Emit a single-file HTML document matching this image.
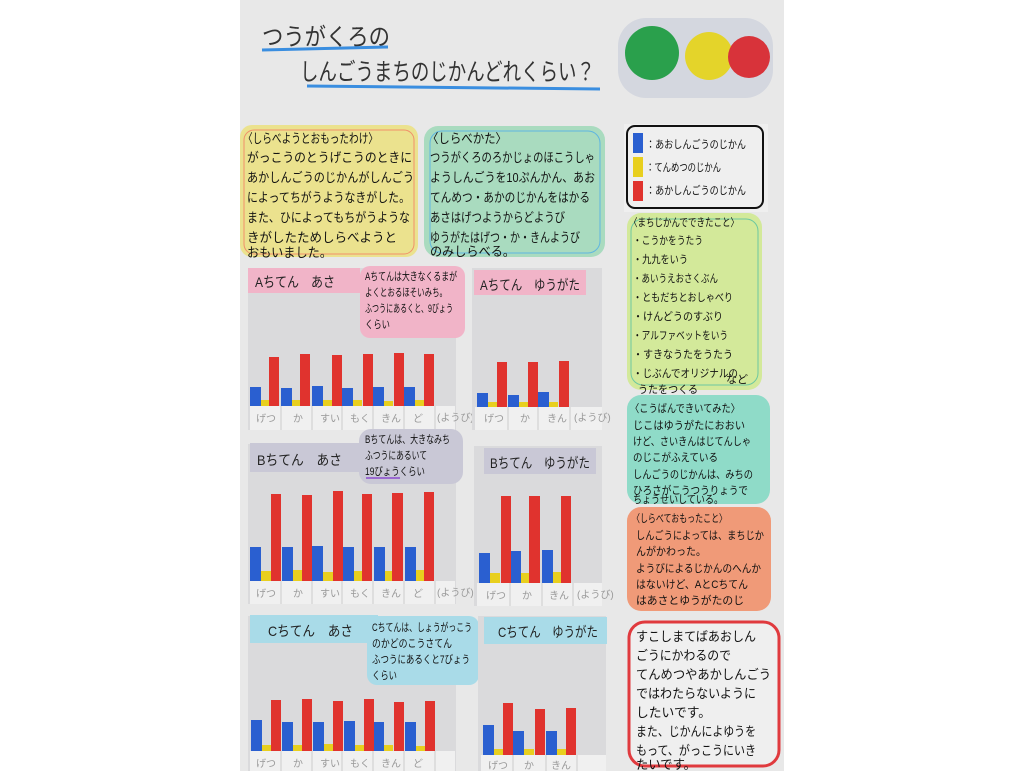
<!DOCTYPE html>
<html><head><meta charset="utf-8">
<style>
html,body{margin:0;padding:0;background:#fff;width:1024px;height:771px;overflow:hidden}
svg{display:block}
text{font-family:"Liberation Sans","Noto Sans CJK JP",sans-serif;fill:#222}
.t{font-size:13px;fill:#111}
.s{font-size:11px;fill:#111}
.x{font-size:10px;fill:#999}
</style></head><body>
<svg width="1024" height="771" viewBox="0 0 1024 771" xmlns="http://www.w3.org/2000/svg">
<rect x="240" y="0" width="544" height="771" fill="#e8e8e8"/>
<!-- title -->
<text x="262" y="45" font-size="24" style="fill:#333" textLength="128" lengthAdjust="spacingAndGlyphs">つうがくろの</text>
<path d="M262 50 L388 47" stroke="#3a8ee0" stroke-width="3"/>
<text x="300" y="80" font-size="24" style="fill:#333" textLength="295" lengthAdjust="spacingAndGlyphs">しんごうまちのじかんどれくらい？</text>
<path d="M307 86 L600 89" stroke="#3a8ee0" stroke-width="3"/>
<rect x="618" y="18" width="155" height="80" rx="28" fill="#d4d7df"/>
<circle cx="652" cy="53" r="27" fill="#2aa04c"/>
<circle cx="709" cy="56" r="24" fill="#e4d42a"/>
<circle cx="749" cy="57" r="21" fill="#d8333a"/>
<!-- box1 yellow -->
<rect x="240" y="125" width="178" height="132" rx="12" fill="#ebe28e"/>
<rect x="244" y="130" width="170" height="124" rx="10" fill="none" stroke="#f0906a" stroke-width="1"/>
<g lengthAdjust="spacingAndGlyphs">
<text class="t" x="243" y="143" textLength="135" lengthAdjust="spacingAndGlyphs">〈しらべようとおもったわけ〉</text>
<text class="t" x="247" y="162" textLength="165" lengthAdjust="spacingAndGlyphs">がっこうのとうげこうのときに</text>
<text class="t" x="247" y="182" textLength="167" lengthAdjust="spacingAndGlyphs">あかしんごうのじかんがしんごう</text>
<text class="t" x="247" y="202" textLength="163" lengthAdjust="spacingAndGlyphs">によってちがうようなきがした。</text>
<text class="t" x="247" y="222" textLength="163" lengthAdjust="spacingAndGlyphs">また、ひによってもちがうような</text>
<text class="t" x="247" y="242" textLength="150" lengthAdjust="spacingAndGlyphs">きがしたためしらべようと</text>
<text class="t" x="247" y="257" textLength="85" lengthAdjust="spacingAndGlyphs">おもいました。</text>
</g>
<!-- box2 green -->
<rect x="424" y="126" width="181" height="131" rx="14" fill="#a9dbbf"/>
<rect x="430" y="131" width="170" height="122" rx="12" fill="none" stroke="#5fb6e0" stroke-width="1"/>
<text class="t" x="427" y="143" textLength="80" lengthAdjust="spacingAndGlyphs">〈しらべかた〉</text>
<text class="t" x="430" y="162" textLength="165" lengthAdjust="spacingAndGlyphs">つうがくろのろかじょのほこうしゃ</text>
<text class="t" x="430" y="182" textLength="165" lengthAdjust="spacingAndGlyphs">ようしんごうを10ぷんかん、あお</text>
<text class="t" x="430" y="202" textLength="160" lengthAdjust="spacingAndGlyphs">てんめつ・あかのじかんをはかる</text>
<text class="t" x="430" y="222" textLength="135" lengthAdjust="spacingAndGlyphs">あさはげつようからどようび</text>
<text class="t" x="430" y="242" textLength="150" lengthAdjust="spacingAndGlyphs">ゆうがたはげつ・か・きんようび</text>
<text class="t" x="430" y="256" textLength="85" lengthAdjust="spacingAndGlyphs">のみしらべる。</text>
<!-- legend -->
<rect x="624" y="124" width="144" height="88" fill="#efefef"/>
<rect x="627" y="126" width="136" height="82" rx="8" fill="none" stroke="#111" stroke-width="2"/>
<rect x="633" y="133" width="10" height="20" fill="#2a5fd0"/>
<rect x="633" y="157" width="10" height="20" fill="#e8cf1e"/>
<rect x="633" y="181" width="10" height="20" fill="#e0332e"/>
<text class="s" x="646" y="148" textLength="100" lengthAdjust="spacingAndGlyphs">：あおしんごうのじかん</text>
<text class="s" x="646" y="171" textLength="75" lengthAdjust="spacingAndGlyphs">：てんめつのじかん</text>
<text class="s" x="646" y="194" textLength="100" lengthAdjust="spacingAndGlyphs">：あかしんごうのじかん</text>
<!-- green list -->
<rect x="627" y="213" width="135" height="177" rx="14" fill="#d3e99a"/>
<rect x="631" y="219" width="127" height="166" rx="12" fill="none" stroke="#6cc8a0" stroke-width="1"/>
<text class="s" x="629" y="226" textLength="110" lengthAdjust="spacingAndGlyphs">〈まちじかんでできたこと〉</text>
<text class="s" x="633" y="244" textLength="70" lengthAdjust="spacingAndGlyphs">・こうかをうたう</text>
<text class="s" x="633" y="263" textLength="55" lengthAdjust="spacingAndGlyphs">・九九をいう</text>
<text class="s" x="633" y="282" textLength="85" lengthAdjust="spacingAndGlyphs">・あいうえおさくぶん</text>
<text class="s" x="633" y="301" textLength="100" lengthAdjust="spacingAndGlyphs">・ともだちとおしゃべり</text>
<text class="s" x="633" y="320" textLength="90" lengthAdjust="spacingAndGlyphs">・けんどうのすぶり</text>
<text class="s" x="633" y="339" textLength="95" lengthAdjust="spacingAndGlyphs">・アルファベットをいう</text>
<text class="s" x="633" y="358" textLength="100" lengthAdjust="spacingAndGlyphs">・すきなうたをうたう</text>
<text class="s" x="633" y="377" textLength="105" lengthAdjust="spacingAndGlyphs">・じぶんでオリジナルの</text>
<text class="s" x="638" y="393" textLength="60" lengthAdjust="spacingAndGlyphs">うたをつくる</text>
<text class="s" x="726" y="383">など</text>
<!-- teal -->
<rect x="627" y="395" width="143" height="109" rx="14" fill="#8fdbc8"/>
<text class="s" x="630" y="412" textLength="110" lengthAdjust="spacingAndGlyphs">〈こうばんできいてみた〉</text>
<text class="s" x="633" y="429" textLength="112" lengthAdjust="spacingAndGlyphs">じこはゆうがたにおおい</text>
<text class="s" x="633" y="445" textLength="118" lengthAdjust="spacingAndGlyphs">けど、さいきんはじてんしゃ</text>
<text class="s" x="633" y="461" textLength="85" lengthAdjust="spacingAndGlyphs">のじこがふえている</text>
<text class="s" x="633" y="478" textLength="120" lengthAdjust="spacingAndGlyphs">しんごうのじかんは、みちの</text>
<text class="s" x="633" y="494" textLength="115" lengthAdjust="spacingAndGlyphs">ひろさがこうつうりょうで</text>
<text class="s" x="633" y="503" textLength="90" lengthAdjust="spacingAndGlyphs">ちょうせいしている。</text>
<!-- orange -->
<rect x="627" y="507" width="144" height="104" rx="14" fill="#f09a78"/>
<text class="s" x="632" y="522" textLength="95" lengthAdjust="spacingAndGlyphs">〈しらべておもったこと〉</text>
<text class="s" x="636" y="539" textLength="128" lengthAdjust="spacingAndGlyphs">しんごうによっては、まちじか</text>
<text class="s" x="636" y="555" textLength="70" lengthAdjust="spacingAndGlyphs">んがかわった。</text>
<text class="s" x="636" y="572" textLength="125" lengthAdjust="spacingAndGlyphs">ようびによるじかんのへんか</text>
<text class="s" x="636" y="588" textLength="112" lengthAdjust="spacingAndGlyphs">はないけど、AとCちてん</text>
<text class="s" x="636" y="604" textLength="108" lengthAdjust="spacingAndGlyphs">はあさとゆうがたのじ</text>
<!-- red outline -->
<rect x="629" y="622" width="150" height="144" rx="16" fill="#efefef" stroke="#e03a3e" stroke-width="3"/>
<text class="t" x="636" y="641" textLength="120" lengthAdjust="spacingAndGlyphs">すこしまてばあおしん</text>
<text class="t" x="636" y="660" textLength="95" lengthAdjust="spacingAndGlyphs">ごうにかわるので</text>
<text class="t" x="636" y="679" textLength="135" lengthAdjust="spacingAndGlyphs">てんめつやあかしんごう</text>
<text class="t" x="636" y="698" textLength="120" lengthAdjust="spacingAndGlyphs">ではわたらないように</text>
<text class="t" x="636" y="717" textLength="75" lengthAdjust="spacingAndGlyphs">したいです。</text>
<text class="t" x="636" y="736" textLength="120" lengthAdjust="spacingAndGlyphs">また、じかんによゆうを</text>
<text class="t" x="636" y="755" textLength="120" lengthAdjust="spacingAndGlyphs">もって、がっこうにいき</text>
<text class="t" x="636" y="769" textLength="60" lengthAdjust="spacingAndGlyphs">たいです。</text>

<!-- ===== A morning ===== -->
<rect x="248" y="268" width="208" height="162" fill="#dadadc"/>
<rect x="250" y="406" width="205" height="24" fill="#f0f0f0"/>
<g stroke="#ccc"><path d="M281 406V430M312 406V430M342 406V430M373 406V430M404 406V430M435 406V430"/></g>
<rect x="248" y="268" width="112" height="25" fill="#f1b4c8"/>
<text x="255" y="287" font-size="14" textLength="80" lengthAdjust="spacingAndGlyphs">Aちてん　あさ</text>
<rect x="360" y="266" width="105" height="72" rx="10" fill="#f1b4c8"/>
<text class="s" x="365" y="280" textLength="92" lengthAdjust="spacingAndGlyphs">Aちてんは大きなくるまが</text>
<text class="s" x="365" y="296" textLength="82" lengthAdjust="spacingAndGlyphs">よくとおるほそいみち。</text>
<text class="s" x="365" y="312" textLength="88" lengthAdjust="spacingAndGlyphs">ふつうにあるくと、9びょう</text>
<text class="s" x="365" y="328" textLength="25" lengthAdjust="spacingAndGlyphs">くらい</text>
<g fill="#2a5fd0"><rect x="250" y="387" width="11" height="19"/><rect x="281" y="388" width="11" height="18"/><rect x="312" y="386" width="11" height="20"/><rect x="342" y="388" width="11" height="18"/><rect x="373" y="387" width="11" height="19"/><rect x="404" y="387" width="11" height="19"/></g>
<g fill="#e8cf1e"><rect x="261" y="400" width="9" height="6"/><rect x="292" y="400" width="9" height="6"/><rect x="323" y="400" width="9" height="6"/><rect x="353" y="400" width="9" height="6"/><rect x="384" y="401" width="9" height="5"/><rect x="415" y="400" width="9" height="6"/></g>
<g fill="#e0332e"><rect x="269" y="357" width="10" height="49"/><rect x="300" y="354" width="10" height="52"/><rect x="332" y="355" width="10" height="51"/><rect x="363" y="354" width="10" height="52"/><rect x="394" y="353" width="10" height="53"/><rect x="424" y="354" width="10" height="52"/></g>
<text class="x" x="256" y="422">げつ</text><text class="x" x="293" y="422">か</text><text class="x" x="320" y="422">すい</text><text class="x" x="350" y="422">もく</text><text class="x" x="381" y="422">きん</text><text class="x" x="413" y="422">ど</text><text class="x" x="437" y="421" font-size="7">(ようび)</text>

<!-- ===== A evening ===== -->
<rect x="472" y="268" width="130" height="162" fill="#dadadc"/>
<rect x="475" y="407" width="127" height="23" fill="#f0f0f0"/>
<g stroke="#ccc"><path d="M508 407V430M538 407V430M570 407V430"/></g>
<rect x="474" y="270" width="112" height="25" fill="#f1b4c8"/>
<text x="480" y="290" font-size="14" textLength="100" lengthAdjust="spacingAndGlyphs">Aちてん　ゆうがた</text>
<g fill="#2a5fd0"><rect x="477" y="393" width="11" height="14"/><rect x="508" y="395" width="11" height="12"/><rect x="538" y="392" width="11" height="15"/></g>
<g fill="#e8cf1e"><rect x="488" y="402" width="9" height="5"/><rect x="519" y="402" width="9" height="5"/><rect x="549" y="402" width="9" height="5"/></g>
<g fill="#e0332e"><rect x="497" y="362" width="10" height="45"/><rect x="528" y="362" width="10" height="45"/><rect x="559" y="361" width="10" height="46"/></g>
<text class="x" x="484" y="422">げつ</text><text class="x" x="520" y="422">か</text><text class="x" x="547" y="422">きん</text><text class="x" x="574" y="421" font-size="7">(ようび)</text>

<!-- ===== B morning ===== -->
<rect x="248" y="444" width="208" height="160" fill="#dadadc"/>
<rect x="250" y="581" width="205" height="23" fill="#f0f0f0"/>
<g stroke="#ccc"><path d="M281 581V604M312 581V604M342 581V604M373 581V604M404 581V604M435 581V604"/></g>
<rect x="250" y="443" width="112" height="29" fill="#c9c8d6"/>
<text x="257" y="465" font-size="14" textLength="85" lengthAdjust="spacingAndGlyphs">Bちてん　あさ</text>
<rect x="359" y="429" width="104" height="55" rx="12" fill="#c9c8d6"/>
<text class="s" x="365" y="443" textLength="85" lengthAdjust="spacingAndGlyphs">Bちてんは、大きなみち</text>
<text class="s" x="365" y="459" textLength="62" lengthAdjust="spacingAndGlyphs">ふつうにあるいて</text>
<text class="s" x="365" y="475" textLength="60" lengthAdjust="spacingAndGlyphs">19びょうくらい</text>
<path d="M366 478 L400 478" stroke="#9a6ad0" stroke-width="2"/>
<g fill="#2a5fd0"><rect x="250" y="547" width="11" height="34"/><rect x="282" y="547" width="11" height="34"/><rect x="312" y="546" width="11" height="35"/><rect x="343" y="547" width="11" height="34"/><rect x="374" y="547" width="11" height="34"/><rect x="405" y="547" width="11" height="34"/></g>
<g fill="#e8cf1e"><rect x="261" y="571" width="10" height="10"/><rect x="293" y="570" width="9" height="11"/><rect x="323" y="572" width="10" height="9"/><rect x="354" y="571" width="9" height="10"/><rect x="385" y="571" width="8" height="10"/><rect x="416" y="570" width="9" height="11"/></g>
<g fill="#e0332e"><rect x="271" y="494" width="10" height="87"/><rect x="302" y="495" width="10" height="86"/><rect x="333" y="491" width="10" height="90"/><rect x="362" y="494" width="10" height="87"/><rect x="392" y="493" width="11" height="88"/><rect x="424" y="492" width="10" height="89"/></g>
<text class="x" x="256" y="597">げつ</text><text class="x" x="293" y="597">か</text><text class="x" x="320" y="597">すい</text><text class="x" x="350" y="597">もく</text><text class="x" x="381" y="597">きん</text><text class="x" x="413" y="597">ど</text><text class="x" x="437" y="596" font-size="7">(ようび)</text>

<!-- ===== B evening ===== -->
<rect x="474" y="446" width="128" height="160" fill="#dadadc"/>
<rect x="477" y="583" width="125" height="23" fill="#f0f0f0"/>
<g stroke="#ccc"><path d="M510 583V606M542 583V606M573 583V606"/></g>
<rect x="484" y="448" width="112" height="26" fill="#c9c8d6"/>
<text x="490" y="468" font-size="14" textLength="100" lengthAdjust="spacingAndGlyphs">Bちてん　ゆうがた</text>
<g fill="#2a5fd0"><rect x="479" y="553" width="11" height="30"/><rect x="510" y="551" width="11" height="32"/><rect x="542" y="550" width="11" height="33"/></g>
<g fill="#e8cf1e"><rect x="490" y="573" width="10" height="10"/><rect x="521" y="573" width="9" height="10"/><rect x="553" y="572" width="9" height="11"/></g>
<g fill="#e0332e"><rect x="501" y="496" width="10" height="87"/><rect x="529" y="496" width="11" height="87"/><rect x="561" y="496" width="10" height="87"/></g>
<text class="x" x="486" y="599">げつ</text><text class="x" x="522" y="599">か</text><text class="x" x="549" y="599">きん</text><text class="x" x="577" y="598" font-size="7">(ようび)</text>

<!-- ===== C morning ===== -->
<rect x="248" y="616" width="208" height="155" fill="#dadadc"/>
<rect x="250" y="751" width="205" height="20" fill="#f0f0f0"/>
<g stroke="#ccc"><path d="M281 751V771M312 751V771M342 751V771M373 751V771M404 751V771M435 751V771"/></g>
<rect x="250" y="615" width="128" height="28" fill="#a9dbe8"/>
<text x="268" y="636" font-size="14" textLength="85" lengthAdjust="spacingAndGlyphs">Cちてん　あさ</text>
<rect x="367" y="616" width="112" height="69" rx="10" fill="#a9dbe8"/>
<text class="s" x="372" y="631" textLength="100" lengthAdjust="spacingAndGlyphs">Cちてんは、しょうがっこう</text>
<text class="s" x="372" y="647" textLength="80" lengthAdjust="spacingAndGlyphs">のかどのこうさてん</text>
<text class="s" x="372" y="663" textLength="98" lengthAdjust="spacingAndGlyphs">ふつうにあるくと7びょう</text>
<text class="s" x="372" y="679" textLength="25" lengthAdjust="spacingAndGlyphs">くらい</text>
<g fill="#2a5fd0"><rect x="251" y="720" width="11" height="31"/><rect x="282" y="722" width="11" height="29"/><rect x="313" y="722" width="11" height="29"/><rect x="344" y="721" width="11" height="30"/><rect x="373" y="722" width="11" height="29"/><rect x="405" y="722" width="11" height="29"/></g>
<g fill="#e8cf1e"><rect x="262" y="745" width="9" height="6"/><rect x="293" y="745" width="9" height="6"/><rect x="324" y="744" width="9" height="7"/><rect x="355" y="745" width="9" height="6"/><rect x="384" y="745" width="9" height="6"/><rect x="416" y="746" width="9" height="5"/></g>
<g fill="#e0332e"><rect x="271" y="700" width="10" height="51"/><rect x="302" y="699" width="10" height="52"/><rect x="333" y="701" width="10" height="50"/><rect x="364" y="699" width="10" height="52"/><rect x="394" y="702" width="10" height="49"/><rect x="425" y="701" width="10" height="50"/></g>
<text class="x" x="256" y="767">げつ</text><text class="x" x="293" y="767">か</text><text class="x" x="320" y="767">すい</text><text class="x" x="350" y="767">もく</text><text class="x" x="381" y="767">きん</text><text class="x" x="413" y="767">ど</text>

<!-- ===== C evening ===== -->
<rect x="478" y="616" width="128" height="155" fill="#dadadc"/>
<rect x="481" y="755" width="125" height="16" fill="#f0f0f0"/>
<g stroke="#ccc"><path d="M513 755V771M546 755V771M577 755V771"/></g>
<rect x="484" y="617" width="123" height="27" fill="#a9dbe8"/>
<text x="498" y="637" font-size="14" textLength="100" lengthAdjust="spacingAndGlyphs">Cちてん　ゆうがた</text>
<g fill="#2a5fd0"><rect x="483" y="725" width="11" height="30"/><rect x="513" y="731" width="11" height="24"/><rect x="546" y="731" width="11" height="24"/></g>
<g fill="#e8cf1e"><rect x="494" y="749" width="9" height="6"/><rect x="524" y="749" width="10" height="6"/><rect x="557" y="749" width="9" height="6"/></g>
<g fill="#e0332e"><rect x="503" y="703" width="10" height="52"/><rect x="535" y="709" width="10" height="46"/><rect x="566" y="708" width="10" height="47"/></g>
<text class="x" x="488" y="769">げつ</text><text class="x" x="524" y="769">か</text><text class="x" x="551" y="769">きん</text>
</svg>
</body></html>
